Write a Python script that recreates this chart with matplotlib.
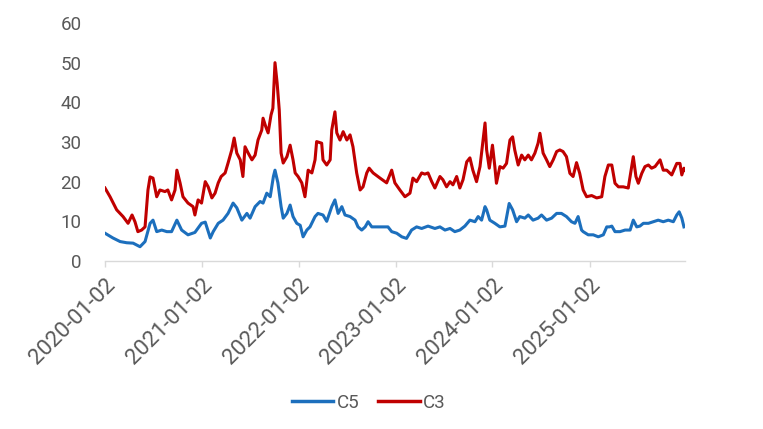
import pandas as pd
import matplotlib
matplotlib.use("Agg")
import matplotlib.pyplot as plt
import matplotlib.dates as mdates

plt.rcParams['font.family'] = ['Roboto', 'DejaVu Sans']

# ---- data ----
c3_dates = [
    "2020-01-02", "2020-01-21", "2020-02-15", "2020-03-10", "2020-03-29", "2020-04-13",
    "2020-04-24", "2020-05-05", "2020-05-19", "2020-06-01", "2020-06-12", "2020-06-20",
    "2020-07-01", "2020-07-15", "2020-07-27", "2020-08-15", "2020-08-26", "2020-09-09",
    "2020-09-22", "2020-09-29", "2020-10-11", "2020-10-22", "2020-11-10", "2020-11-29",
    "2020-12-06", "2020-12-18", "2020-12-31",
    "2021-01-14", "2021-01-25", "2021-02-08", "2021-02-20", "2021-03-04", "2021-03-15",
    "2021-03-30", "2021-04-10", "2021-04-24", "2021-05-03", "2021-05-13", "2021-05-26",
    "2021-06-05", "2021-06-13", "2021-06-25", "2021-07-09", "2021-07-21", "2021-08-01",
    "2021-08-15", "2021-08-20", "2021-08-30", "2021-09-08", "2021-09-19", "2021-09-26",
    "2021-10-04", "2021-10-12", "2021-10-20", "2021-10-27", "2021-11-04", "2021-11-18",
    "2021-11-30", "2021-12-11", "2021-12-19", "2021-12-30",
    "2022-01-13", "2022-01-25", "2022-02-06", "2022-02-20", "2022-03-04", "2022-03-10",
    "2022-03-29", "2022-04-03", "2022-04-17", "2022-04-30", "2022-05-06", "2022-05-18",
    "2022-05-25", "2022-06-06", "2022-06-18", "2022-07-02", "2022-07-14", "2022-07-25",
    "2022-08-08", "2022-08-21", "2022-09-01", "2022-09-15", "2022-09-24", "2022-10-09",
    "2022-11-04", "2022-11-29", "2022-12-18", "2022-12-30",
    "2023-01-18", "2023-02-06", "2023-02-25", "2023-03-08", "2023-03-22", "2023-04-10",
    "2023-04-22", "2023-05-04", "2023-05-18", "2023-05-30", "2023-06-18", "2023-06-29",
    "2023-07-13", "2023-07-26", "2023-08-06", "2023-08-20", "2023-09-01", "2023-09-13",
    "2023-09-27", "2023-10-09", "2023-10-20", "2023-11-03", "2023-11-16", "2023-11-26",
    "2023-12-05", "2023-12-11", "2023-12-21",
    "2024-01-02", "2024-01-11", "2024-01-17", "2024-01-30", "2024-02-11", "2024-02-24",
    "2024-03-08", "2024-03-18", "2024-03-26", "2024-04-08", "2024-04-21", "2024-05-03",
    "2024-05-16", "2024-05-28", "2024-06-10", "2024-06-22", "2024-06-29", "2024-07-11",
    "2024-07-24", "2024-08-05", "2024-08-18", "2024-08-31", "2024-09-12", "2024-09-24",
    "2024-10-07", "2024-10-20", "2024-11-01", "2024-11-14", "2024-11-26", "2024-12-09",
    "2024-12-22",
    "2025-01-10", "2025-01-29", "2025-02-17", "2025-03-01", "2025-03-14", "2025-03-27",
    "2025-04-08", "2025-04-21", "2025-05-09", "2025-05-28", "2025-06-10", "2025-06-16",
    "2025-06-26", "2025-07-05", "2025-07-18", "2025-07-30", "2025-08-12", "2025-08-24",
    "2025-09-06", "2025-09-25", "2025-10-07", "2025-10-20", "2025-11-08", "2025-11-27",
    "2025-12-09", "2025-12-16", "2025-12-24", "2025-12-28",
]
c3_values = [
    18.4, 16.2, 12.9, 11.2, 9.5, 11.6,
    9.9, 7.4, 7.8, 8.6, 17.9, 21.2,
    20.9, 16.2, 17.9, 17.5, 17.9, 15.4,
    17.9, 22.9, 19.7, 16.2, 14.6, 13.7,
    11.6, 15.4, 14.6,
    20.0, 18.7, 15.9, 17.1, 19.7, 21.3,
    22.2, 24.7, 28.0, 31.0, 27.2, 25.5,
    21.3, 28.8, 27.2, 25.5, 26.7, 30.5,
    33.0, 36.0, 33.9, 32.3, 36.8, 38.5,
    50.0, 44.9, 38.1, 27.2, 24.7, 26.3,
    29.2, 25.5, 22.2, 21.3,
    19.7, 16.2, 22.9, 22.2, 25.5, 30.1,
    29.7, 25.5, 24.2, 25.5, 33.0, 37.6,
    32.3, 30.5, 32.6, 30.5, 31.8, 28.8,
    22.2, 17.9, 18.7, 22.2, 23.4, 22.2,
    20.9, 19.7, 22.9, 19.7,
    17.9, 16.2, 17.1, 20.9, 20.0, 22.2,
    21.9, 22.2, 20.0, 18.4, 21.3, 20.5,
    18.7, 20.0, 19.2, 21.3, 18.4, 20.5,
    25.0, 26.0, 22.9, 20.0, 23.8, 29.7,
    34.8, 28.0, 23.4,
    29.2, 23.8, 19.6, 23.8, 23.4, 24.6,
    30.5, 31.3, 28.0, 24.2, 26.7, 25.5,
    26.7, 25.5, 27.2, 29.7, 32.2, 27.2,
    25.5, 23.8, 25.5, 27.6, 28.0, 27.6,
    26.3, 22.1, 21.3, 24.8, 22.1, 17.9,
    16.2,
    16.5, 15.9, 16.2, 21.3, 24.2, 24.2,
    19.6, 18.7, 18.7, 18.4, 23.8, 26.3,
    21.3, 19.6, 22.1, 23.8, 24.2, 23.4,
    23.8, 25.5, 22.9, 22.9, 21.7, 24.6,
    24.6, 21.7, 23.4, 22.9,
]

c5_dates = [
    "2020-01-02", "2020-02-01", "2020-02-28", "2020-03-24", "2020-04-17", "2020-05-13",
    "2020-06-01", "2020-06-20", "2020-07-01", "2020-07-15", "2020-08-03", "2020-08-22",
    "2020-09-09", "2020-09-29", "2020-10-17", "2020-11-10", "2020-12-06", "2020-12-31",
    "2021-01-14", "2021-02-02", "2021-02-13", "2021-03-04", "2021-03-22", "2021-04-10",
    "2021-04-29", "2021-05-13", "2021-06-01", "2021-06-20", "2021-07-02", "2021-07-21",
    "2021-08-09", "2021-08-20", "2021-09-03", "2021-09-16", "2021-09-28", "2021-10-04",
    "2021-10-15", "2021-10-27", "2021-11-04", "2021-11-18", "2021-11-30", "2021-12-11",
    "2021-12-25",
    "2022-01-07", "2022-01-18", "2022-02-01", "2022-02-13", "2022-03-04", "2022-03-15",
    "2022-04-03", "2022-04-17", "2022-05-06", "2022-05-18", "2022-05-30", "2022-06-13",
    "2022-06-25", "2022-07-14", "2022-08-02", "2022-08-13", "2022-08-27", "2022-09-09",
    "2022-09-20", "2022-10-04", "2022-11-04", "2022-12-04", "2022-12-18",
    "2023-01-06", "2023-01-25", "2023-02-12", "2023-03-03", "2023-03-22", "2023-04-10",
    "2023-05-04", "2023-05-30", "2023-06-18", "2023-07-07", "2023-07-26", "2023-08-13",
    "2023-09-01", "2023-09-20", "2023-10-09", "2023-10-28", "2023-11-09", "2023-11-22",
    "2023-12-05", "2023-12-11", "2023-12-23",
    "2024-01-11", "2024-01-30", "2024-02-18", "2024-03-05", "2024-03-18", "2024-04-02",
    "2024-04-14", "2024-05-03", "2024-05-16", "2024-06-03", "2024-06-22", "2024-07-05",
    "2024-07-24", "2024-08-12", "2024-08-31", "2024-09-18", "2024-10-07", "2024-10-26",
    "2024-11-08", "2024-11-20", "2024-12-03", "2024-12-09", "2024-12-28",
    "2025-01-16", "2025-02-04", "2025-02-23", "2025-03-08", "2025-03-18", "2025-03-27",
    "2025-04-08", "2025-04-27", "2025-05-16", "2025-06-04", "2025-06-16", "2025-06-29",
    "2025-07-11", "2025-07-24", "2025-08-12", "2025-08-30", "2025-09-18", "2025-10-07",
    "2025-10-26", "2025-11-14", "2025-11-27", "2025-12-06", "2025-12-16", "2025-12-24",
]
c5_values = [
    7.0, 5.8, 4.9, 4.6, 4.5, 3.6,
    4.9, 9.5, 10.3, 7.4, 7.8, 7.4,
    7.4, 10.3, 7.8, 6.6, 7.2, 9.5,
    9.8, 5.8, 7.4, 9.5, 10.3, 12.0,
    14.6, 13.4, 10.3, 12.0, 10.8, 13.7,
    15.0, 14.6, 17.1, 16.2, 21.3, 22.9,
    19.7, 13.7, 10.8, 12.0, 14.1, 11.2,
    9.5,
    9.0, 6.1, 7.8, 8.6, 11.2, 12.0,
    11.6, 10.0, 13.7, 15.4, 12.0, 13.7,
    11.6, 11.2, 10.3, 8.6, 7.8, 8.6,
    9.9, 8.6, 8.6, 8.6, 7.4,
    7.0, 6.1, 5.7, 7.8, 8.6, 8.2,
    8.8, 8.2, 8.6, 7.8, 8.2, 7.4,
    7.8, 8.8, 10.3, 9.9, 11.2, 10.3,
    13.7, 12.9, 10.3,
    9.5, 8.6, 8.8, 14.5, 12.9, 9.9,
    11.2, 10.8, 11.6, 10.3, 10.8, 11.6,
    10.3, 10.8, 12.0, 12.0, 11.2, 9.9,
    9.5, 11.2, 7.8, 7.4, 6.6,
    6.6, 6.1, 6.6, 8.6, 8.6, 8.8,
    7.4, 7.4, 7.8, 7.8, 10.3, 8.6,
    8.8, 9.5, 9.5, 9.9, 10.3, 9.9,
    10.3, 9.9, 11.6, 12.4, 10.8, 8.6,
]

tick_dates = ["2020-01-02", "2021-01-02", "2022-01-02", "2023-01-02", "2024-01-02", "2025-01-02"]
y_ticks = [0, 10, 20, 30, 40, 50, 60]

grey = "#595959"
blue = "#1c6fbd"
red = "#c00000"

fig = plt.figure(figsize=(7.63, 4.29), dpi=100)
ax = fig.add_axes([105 / 763, 1 - 261 / 429, 580 / 763, 238 / 429])

ax.plot(pd.to_datetime(c5_dates), c5_values, color=blue, lw=2.2, label="C5")
ax.plot(pd.to_datetime(c3_dates), c3_values, color=red, lw=2.2, label="C3")

ax.set_ylim(0, 60)
ax.set_yticks(y_ticks)
ax.set_xlim(pd.Timestamp("2020-01-02"), pd.Timestamp("2025-12-28"))
ax.set_xticks(pd.to_datetime(tick_dates))
ax.xaxis.set_major_formatter(mdates.DateFormatter("%Y-%m-%d"))

for s in ["top", "right", "left"]:
    ax.spines[s].set_visible(False)
ax.spines["bottom"].set_color("#d9d9d9")
ax.spines["bottom"].set_linewidth(1.0)

ax.tick_params(axis="y", length=0, pad=17, labelsize=13.5, labelcolor=grey)
ax.tick_params(axis="x", length=4, width=1, color="#d9d9d9", pad=6,
               labelsize=16, labelcolor=grey)
plt.setp(ax.get_xticklabels(), rotation=45, ha="right", rotation_mode="anchor")

leg = fig.legend(loc="center", bbox_to_anchor=(369 / 763, 1 - 403 / 429), ncol=2,
                 frameon=False, fontsize=13.5, handlelength=2.2, handletextpad=0.2,
                 columnspacing=1.0, labelcolor=grey)
for line in leg.get_lines():
    line.set_linewidth(2.5)

fig.savefig("out.png", dpi=100)
